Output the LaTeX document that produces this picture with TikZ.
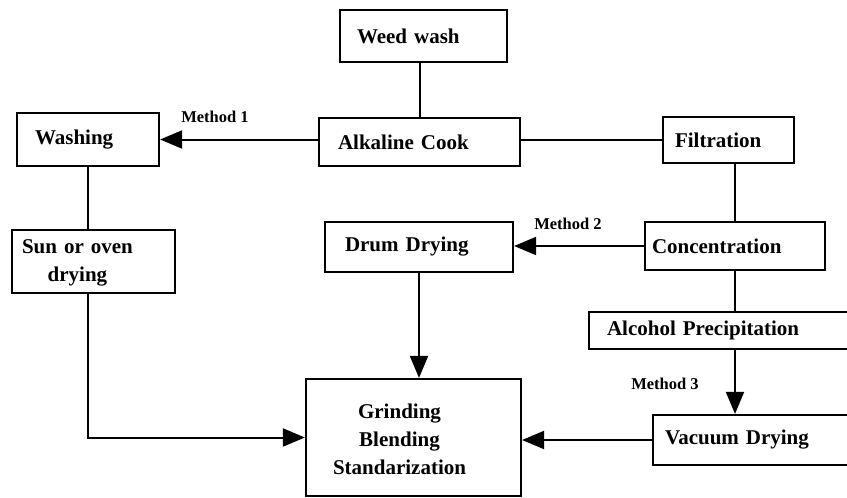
\documentclass[tikz,border=0pt]{standalone}
\usepackage{fontspec}
\setmainfont{Liberation Serif}
\usetikzlibrary{arrows.meta}
\begin{document}
\begin{tikzpicture}[x=1pt, y=-1pt, line width=2pt,
    box_node/.style={draw, line width=2.2pt, inner ysep=0pt, align=left, font=\bfseries\fontsize{21}{28}\selectfont},
    method_node/.style={inner sep=0pt, font=\bfseries\fontsize{16.5}{18}\selectfont},
    arrow_line/.style={-{Triangle[length=22pt, width=18pt]}}]
    \useasboundingbox (0,0) rectangle (847,498);
    \clip (0,0) rectangle (847,498);
    \node[box_node, inner xsep=17pt, text width=133pt, minimum height=52pt] (1) at (423.5, 36) {Weed wash};
    \node[box_node, inner xsep=19pt, text width=163pt, minimum height=48pt] (2) at (419.5, 142) {Alkaline Cook};
    \node[box_node, inner xsep=18pt, text width=106pt, minimum height=53pt] (3) at (88, 139.5) {Washing};
    \node[box_node, inner xsep=12pt, text width=107pt, minimum height=46pt] (4) at (728.5, 140) {Filtration};
    \node[box_node, inner xsep=7pt, text width=166pt, minimum height=48pt] (5) at (735, 246) {Concentration};
    \node[box_node, inner xsep=20pt, text width=148pt, minimum height=50pt] (6) at (419, 247) {Drum Drying};
    \node[box_node, inner xsep=10pt, text width=143pt, minimum height=63pt] (7) at (93.5, 261.5) {\begin{tabular}{@{}c@{}}Sun or oven\\drying\end{tabular}};
    \node[box_node, inner xsep=27pt, text width=161pt, minimum height=117pt] (8) at (413.5, 437.5) {\begin{tabular}{@{}c@{}}\rule{0pt}{26pt}Grinding\\Blending\\Standarization\end{tabular}};
    \node[box_node, inner xsep=18pt, text width=235pt, minimum height=37pt] (9) at (724.5, 330.5) {Alcohol Precipitation};
    \node[box_node, inner xsep=12pt, text width=183pt, minimum height=50pt] (10) at (756.5, 440) {Vacuum Drying};
    \node[method_node] (m1) at (215, 117) {Method 1};
    \node[method_node] (m2) at (568, 224) {Method 2};
    \node[method_node] (m3) at (665, 384) {Method 3};
    \draw (2.north) -- (2 |- 1.south);
    \draw[arrow_line] (2.west |- 3) -- (3);
    \draw (2.east |- 4) -- (4);
    \draw (5.north) -- (5 |- 4.south);
    \draw[arrow_line] (5.west) -- (5.west -| 6.east);
    \draw (3.south) -- (3.south |- 7.north);
    \draw[arrow_line] (7.south -| 3.south) |- (8.west);
    \draw[arrow_line] (6.south) -- (6.south |- 8.north);
    \draw (5.south) -- (5.south |- 9.north);
    \draw[arrow_line] (9.south -| 5.south) -- (10.north -| 5.south);
    \draw[arrow_line] (10.west) -- (10.west -| 8.east);
\end{tikzpicture}
\end{document}
